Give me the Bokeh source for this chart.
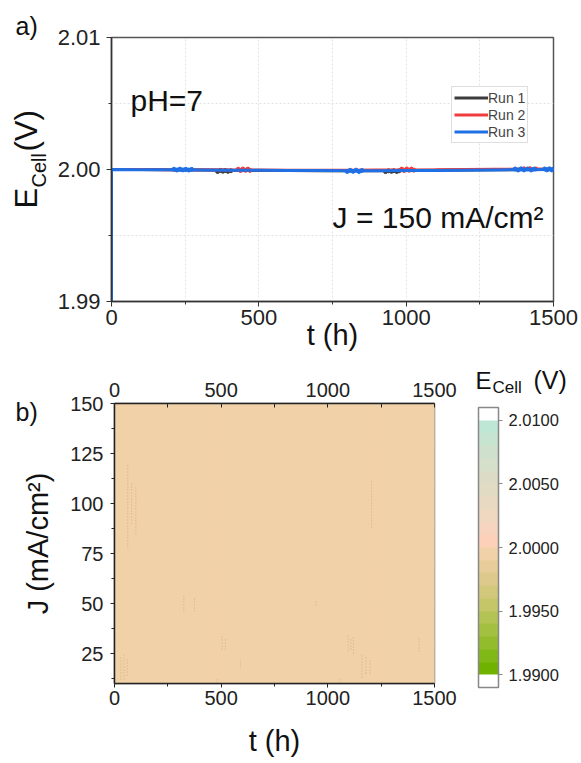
import math
from bokeh.plotting import figure
from bokeh.models import (FixedTicker, Label, Legend, LegendItem, ColorBar, ColumnDataSource,
                          LinearColorMapper, PrintfTickFormatter, Range1d, LinearAxis)
from bokeh.layouts import column, row
from bokeh.embed import file_html
from bokeh.resources import INLINE

FONT = "Liberation Sans"

# ---------------- data: panel a ----------------
t_run = [0, 100, 200, 300, 400, 500, 600, 700, 800, 900, 1000, 1100, 1200, 1300, 1400, 1500]
E_run1 = [2.00000, 2.00000, 1.99998, 1.99996, 1.99994, 1.99993, 1.99992, 1.99991,
          1.99991, 1.99991, 1.99992, 1.99994, 1.99996, 1.99998, 2.00000, 2.00001]
E_run2 = [2.00000, 2.00000, 1.99999, 1.99998, 1.99997, 1.99996, 1.99995, 1.99995,
          1.99995, 1.99996, 1.99997, 1.99998, 2.00000, 2.00002, 2.00003, 2.00002]
t_run3 = [0, 0, 100, 200, 300, 400, 500, 600, 700, 800, 900, 1000, 1100, 1200, 1300, 1400, 1500]
E_run3 = [1.9850, 2.00000, 1.99999, 1.99998, 1.99997, 1.99995, 1.99994, 1.99993, 1.99992,
          1.99991, 1.99991, 1.99992, 1.99993, 1.99995, 1.99997, 1.99999, 2.00000]

t_pts1 = [360, 370, 378, 386, 395, 405, 930, 940, 950, 958, 968, 976]
E_pts1 = [1.99985, 1.99993, 1.99987, 1.99992, 1.99986, 1.99991, 1.99984, 1.99990, 1.99986,
          1.99991, 1.99985, 1.99990]
t_pts2 = [430, 438, 446, 455, 463, 470, 985, 993, 1002, 1010, 1018, 1026, 1400, 1420, 1440]
E_pts2 = [2.00002, 1.99992, 2.00004, 1.99994, 2.00003, 1.99993, 2.00003, 1.99992, 2.00004,
          1.99994, 2.00003, 1.99995, 2.00005, 2.00006, 2.00004]
t_pts3 = [212, 222, 232, 242, 252, 262, 272, 800, 810, 820, 830, 840, 850,
          1370, 1380, 1390, 1400, 1412, 1424, 1434, 1470, 1478, 1486, 1494, 1500]
E_pts3 = [2.00002, 1.99996, 2.00003, 1.99997, 2.00002, 1.99996, 2.00001, 1.99985, 1.99994,
          1.99986, 1.99995, 1.99985, 1.99993, 2.00004, 1.99996, 2.00005, 1.99997, 2.00004,
          1.99996, 2.00003, 2.00004, 1.99997, 2.00005, 1.99997, 2.00003]

x_ticks = [0, 500, 1000, 1500]
x_minor = [250, 750, 1250]
E_ticks = [1.99, 2.00, 2.01]
E_minor = [1.995, 2.005]
run_labels = ["Run 1", "Run 2", "Run 3"]

# ---------------- data: panel b ----------------
t_cells = [125, 375, 625, 875, 1125, 1375]          # cell centres (width 250 h)
J_cells = [20, 40, 60, 80, 100, 120, 140]             # cell centres (height 20)
E_map = [
    [1.99980, 1.99981, 1.99980, 1.99979, 1.99980, 1.99981],
    [1.99981, 1.99980, 1.99980, 1.99980, 1.99979, 1.99980],
    [1.99980, 1.99980, 1.99981, 1.99980, 1.99980, 1.99980],
    [1.99980, 1.99981, 1.99980, 1.99980, 1.99980, 1.99981],
    [1.99979, 1.99980, 1.99980, 1.99981, 1.99980, 1.99980],
    [1.99980, 1.99980, 1.99980, 1.99980, 1.99981, 1.99980],
    [1.99981, 1.99980, 1.99979, 1.99980, 1.99980, 1.99980],
]
# faint streaks (t, J from, J to)
st_t = [30, 45, 60, 62, 80, 100, 325, 375, 505, 520, 590, 945, 1095, 1108, 1120,
        1160, 1178, 1198, 1205, 1428, 480, 1058]
st_lo = [12, 12, 14, 78, 90, 85, 46, 46, 27, 27, 18, 49, 26, 27, 25, 13, 15, 15, 88, 26, 10, 10]
st_hi = [24, 25, 22, 120, 110, 108, 54, 53, 34, 33, 22, 51, 35, 33, 34, 25, 23, 22, 112, 33, 13, 13]
J_ticks = [25, 50, 75, 100, 125, 150]
J_minor = [12.5, 37.5, 62.5, 87.5, 112.5, 137.5]
cb_ticks = [1.990, 1.995, 2.000, 2.005, 2.010]

palette = ["#ffffff",
           "#6fb200", "#80b818", "#92bc2c", "#a4c040", "#b4c454",
           "#c4c668", "#d2c87c", "#dec98c", "#e8cc9a", "#f1d1a7",
           "#fdd0ba", "#f6d4bd", "#efd7c0", "#e8d9c2", "#e2dbc4",
           "#dcdcc6", "#d6dfc9", "#cfe1cc", "#c7e4d1", "#bfe7d6",
           "#ffffff"]


def no_align(f):
    try:
        f.frame_align = False
    except Exception:
        pass
    return f


def label_fig(w, h):
    f = figure(width=w, height=h, x_range=Range1d(0, w), y_range=Range1d(h, 0),
               output_backend="svg", toolbar_location=None, title=None,
               x_axis_type=None, y_axis_type=None,
               min_border_left=0, min_border_right=0, min_border_top=0, min_border_bottom=0)
    f.outline_line_color = None
    f.background_fill_color = "white"
    f.border_fill_color = "white"
    return no_align(f)


def lab(p, x, y, text, size_px, align="left", rotated=False, color="#111111"):
    # baseline correction (text otherwise sits ~0.33 em low)
    k = 0.33 * size_px
    p.add_layout(Label(x=x, y=y, text=text, text_font=FONT, text_font_size=f"{size_px}px",
                       text_align=align, text_baseline="alphabetic",
                       angle=(math.pi / 2 if rotated else 0.0),
                       x_offset=(-k if rotated else 0), y_offset=(0 if rotated else k),
                       text_color=color))


# ---------------- panel a ----------------
H1 = 358
LW1 = 50
p1 = figure(width=581 - LW1, height=H1, x_range=Range1d(0, 1500), y_range=Range1d(1.99, 2.01),
            output_backend="svg", toolbar_location=None, title=None,
            min_border_left=111 - LW1, min_border_right=581 - 553, min_border_top=37,
            min_border_bottom=H1 - 301)
no_align(p1)
p1.outline_line_color = "#555555"
p1.outline_line_width = 1.5

for ax in (p1.below[0], p1.left[0]):
    ax.axis_line_color = "#333333"
    ax.axis_line_width = 1.5
    ax.major_tick_line_color = "#333333"
    ax.minor_tick_line_color = "#333333"
    ax.major_tick_out = 5
    ax.major_tick_in = 0
    ax.minor_tick_out = 3
    ax.minor_tick_in = 0
    ax.major_label_text_font = FONT
    ax.major_label_text_font_size = "22px"
    ax.major_label_text_color = "#222222"
p1.below[0].ticker = FixedTicker(ticks=x_ticks, minor_ticks=x_minor)
p1.left[0].ticker = FixedTicker(ticks=E_ticks, minor_ticks=E_minor)
p1.left[0].formatter = PrintfTickFormatter(format="%.2f")
p1.below[0].major_label_standoff = 3
p1.left[0].major_label_standoff = 6
p1.below[0].axis_label = "t (h)"
p1.below[0].axis_label_text_font = FONT
p1.below[0].axis_label_text_font_size = "29px"
p1.below[0].axis_label_text_font_style = "normal"
p1.below[0].axis_label_text_color = "#111111"
p1.below[0].axis_label_standoff = -9

p1.xgrid.ticker = FixedTicker(ticks=[250, 500, 750, 1000, 1250])
p1.ygrid.ticker = FixedTicker(ticks=[1.995, 2.005])
for g in (p1.xgrid[0], p1.ygrid[0]):
    g.grid_line_color = "#e2e2e2"
    g.grid_line_dash = "2 2"
    g.grid_line_width = 1

r1 = p1.line(t_run, E_run1, line_color="#3c3c3c", line_width=3)
p1.scatter(t_pts1, E_pts1, size=4, color="#3c3c3c")
r2 = p1.line(t_run, E_run2, line_color="#f03c3c", line_width=3)
p1.scatter(t_pts2, E_pts2, size=4, color="#f03c3c")
r3 = p1.line(t_run3, E_run3, line_color="#1f6fe5", line_width=3)
p1.scatter(t_pts3, E_pts3, size=4, color="#1f6fe5")

legend = Legend(items=[LegendItem(label=run_labels[0], renderers=[r1]),
                       LegendItem(label=run_labels[1], renderers=[r2]),
                       LegendItem(label=run_labels[2], renderers=[r3])],
                location=(451 - 111, 301 - 143))
legend.padding = 2
legend.spacing = 0
legend.margin = 0
legend.label_height = 17
legend.glyph_height = 17
legend.glyph_width = 34
legend.label_standoff = 0
legend.label_text_font = FONT
legend.label_text_font_size = "14px"
legend.border_line_color = "#c0c0c0"
legend.border_line_width = 1
p1.add_layout(legend, "center")


def tx(px):
    return (px - 111) / (553 - 111) * 1500


def ty(py):
    return 2.01 - (py - 37) / (301 - 37) * 0.02


lab(p1, tx(130), ty(110), "pH=7", 30)
lab(p1, tx(543), ty(227), "J = 150 mA/cm²", 30, align="right")

L1 = label_fig(LW1, H1)
lab(L1, 15, 34, "a)", 25)
lab(L1, 36, 208, "E", 31, rotated=True)
lab(L1, 45, 187, "Cell", 20, rotated=True)
lab(L1, 36, 151, "(V)", 31, rotated=True)

top_row = row(L1, p1, spacing=0)

# ---------------- panel b ----------------
Y0 = H1
H2 = 763 - H1
LW2 = 56
RW2 = 122
W2 = 581 - LW2 - RW2
GL, GR, GT, GB = 114, 434, 403, 683
p2 = figure(width=W2, height=H2, x_range=Range1d(0, 1500), y_range=Range1d(10, 150),
            output_backend="svg", toolbar_location=None, title=None,
            min_border_left=GL - LW2, min_border_right=(LW2 + W2) - GR,
            min_border_top=GT - Y0, min_border_bottom=763 - GB)
no_align(p2)
p2.outline_line_color = "#777777"
p2.outline_line_width = 1.5
p2.grid.visible = False

mapper = LinearColorMapper(palette=palette, low=1.989, high=2.011)

xs, ys, vs = [], [], []
for i, J in enumerate(J_cells):
    for j, t in enumerate(t_cells):
        xs.append(t)
        ys.append(J)
        vs.append(E_map[i][j])
src = ColumnDataSource(dict(x=xs, y=ys, E=vs))
p2.rect(x="x", y="y", width=250, height=20, source=src,
        fill_color={"field": "E", "transform": mapper},
        line_color={"field": "E", "transform": mapper}, line_width=1)
p2.segment(x0=st_t, y0=st_lo, x1=st_t, y1=st_hi, line_color="#a88868",
           line_alpha=0.45, line_dash="1 2", line_width=1)

top_ax = LinearAxis(ticker=FixedTicker(ticks=x_ticks, minor_ticks=x_minor))
p2.add_layout(top_ax, "above")
bot_ax = p2.below[0]
left_ax = p2.left[0]
for ax in (bot_ax, left_ax, top_ax):
    ax.axis_line_color = "#222222"
    ax.axis_line_width = 1.5
    ax.major_tick_line_color = "#222222"
    ax.minor_tick_line_color = "#222222"
    ax.major_label_text_font = FONT
    ax.major_label_text_font_size = "20px"
    ax.major_label_text_color = "#222222"
    ax.major_tick_out = 4
    ax.major_tick_in = 0
    ax.minor_tick_out = 3
    ax.minor_tick_in = 0
bot_ax.ticker = FixedTicker(ticks=x_ticks, minor_ticks=x_minor)
left_ax.ticker = FixedTicker(ticks=J_ticks, minor_ticks=J_minor)
top_ax.major_tick_out = 0
top_ax.major_tick_in = 4
top_ax.minor_tick_out = 0
top_ax.minor_tick_in = 4
top_ax.major_label_standoff = 7
bot_ax.major_label_standoff = 3
left_ax.major_label_standoff = 7
bot_ax.axis_label = "t (h)"
bot_ax.axis_label_text_font = FONT
bot_ax.axis_label_text_font_size = "29px"
bot_ax.axis_label_text_font_style = "normal"
bot_ax.axis_label_text_color = "#111111"
bot_ax.axis_label_standoff = 17

L2 = label_fig(LW2, H2)
lab(L2, 15, 420 - Y0, "b)", 25)
lab(L2, 47, 543 - Y0, "J (mA/cm²)", 29, align="center", rotated=True)

R2 = label_fig(RW2, H2)
RX = 581 - RW2
cb = ColorBar(color_mapper=mapper, ticker=FixedTicker(ticks=cb_ticks),
              formatter=PrintfTickFormatter(format="%.4f"),
              width=20, height=280, padding=0, margin=0,
              location=(478 - RX, 763 - 687),
              label_standoff=6, major_tick_out=4, major_tick_in=0,
              major_tick_line_color="#888888", bar_line_color="#888888",
              bar_line_width=1.5,
              major_label_text_font=FONT, major_label_text_font_size="16.5px",
              major_label_text_color="#222222",
              background_fill_alpha=0, border_line_color=None)
R2.add_layout(cb, "center")
lab(R2, 475 - RX, 388 - Y0, "E", 24)
lab(R2, 492 - RX, 393 - Y0, "Cell", 17)
lab(R2, 533 - RX, 388 - Y0, "(V)", 25)

bottom_row = row(L2, p2, R2, spacing=0)

layout = column(top_row, bottom_row, spacing=0)
open("out.html", "w").write(file_html(layout, INLINE))
